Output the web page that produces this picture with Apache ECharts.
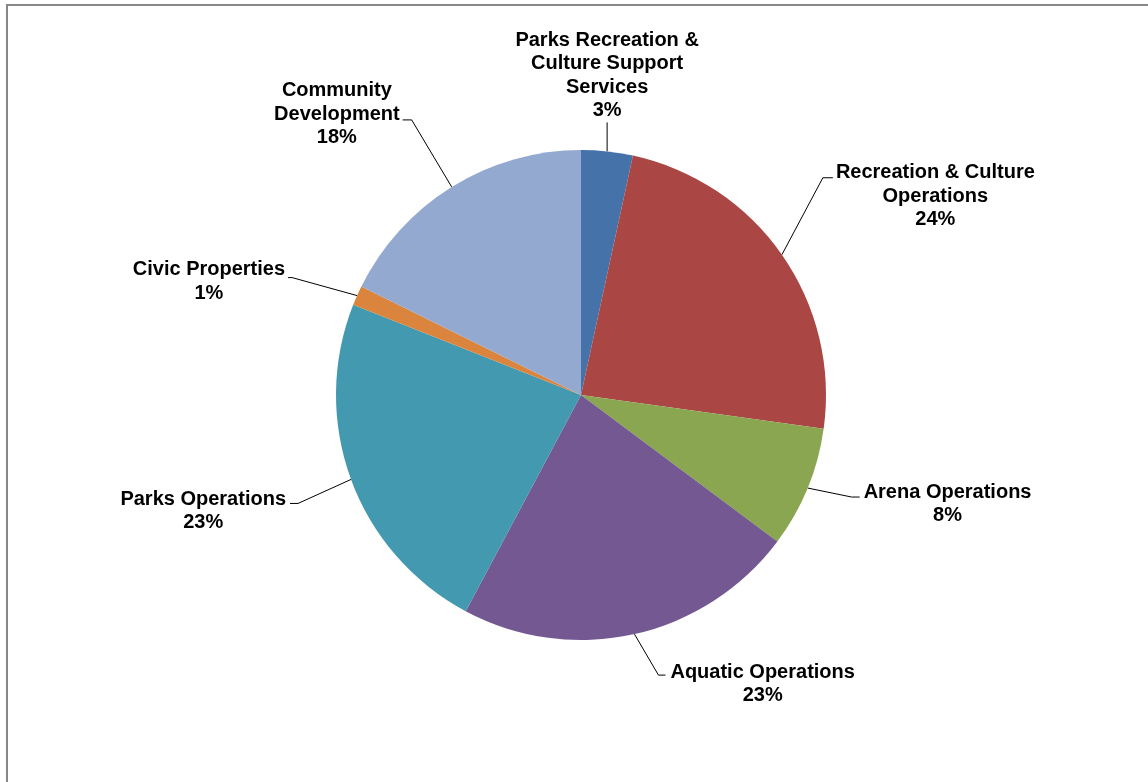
<!DOCTYPE html>
<html>
<head>
<meta charset="utf-8">
<script src="https://cdn.jsdelivr.net/npm/echarts@6/dist/echarts.min.js"></script>
<style>
  html, body { margin: 0; padding: 0; background: #ffffff; }
  #chart { width: 1148px; height: 782px; }
</style>
</head>
<body>
<div id="chart"></div>
<script>
// Department budget shares (percent of total)
const categories = [
  'Parks Recreation &\nCulture Support\nServices',
  'Recreation & Culture\nOperations',
  'Arena Operations',
  'Aquatic Operations',
  'Parks Operations',
  'Civic Properties',
  'Community\nDevelopment'
];
const shares = [3.4, 23.8, 8.0, 22.6, 23.2, 1.3, 17.7];
const sliceColors = ['#4572A8', '#AA4644', '#8AA650', '#735892', '#4399B0', '#DB843D', '#94A9D0'];

// Leader-line routing for each label: bend offset from the slice edge,
// horizontal tail, which side the text sits on, and first-line offset.
const LINE_H = 23.5;
const leaders = [
  { bend: [0, -29],   tail: 0,  side: 'top',   gap: 0, first: 0 },
  { bend: [41, -77],  tail: 10, side: 'right', gap: 3, first: -5 },
  { bend: [44, 9],    tail: 8,  side: 'right', gap: 4, first: -5 },
  { bend: [24, 41],   tail: 7,  side: 'right', gap: 5, first: -3 },
  { bend: [-53, 24],  tail: -8, side: 'left',  gap: 4, first: -4 },
  { bend: [-65, -18], tail: -4, side: 'left',  gap: 3, first: -8 },
  { bend: [-40, -67], tail: -9, side: 'left',  gap: 3, first: -29 }
];

const chart = echarts.init(document.getElementById('chart'), null, { renderer: 'canvas' });

chart.setOption({
  animation: false,
  backgroundColor: '#ffffff',
  graphic: [{
    type: 'rect',
    shape: { x: 7, y: 5, width: 1200, height: 900 },
    style: { fill: 'none', stroke: '#878787', lineWidth: 2 },
    silent: true
  }],
  series: [{
    type: 'pie',
    center: [581, 395],
    radius: 245,
    startAngle: 90,
    clockwise: true,
    avoidLabelOverlap: false,
    percentPrecision: 0,
    itemStyle: { borderWidth: 0 },
    label: {
      show: true,
      position: 'outside',
      formatter: '{b}\n{d}%',
      color: '#000000',
      fontFamily: "'Liberation Sans', Arial, sans-serif",
      fontWeight: 'bold',
      fontSize: 20,
      lineHeight: LINE_H,
      align: 'center'
    },
    labelLine: {
      show: true,
      length: 20,
      length2: 10,
      lineStyle: { color: '#000000', width: 1 }
    },
    labelLayout: function (params) {
      const spec = leaders[params.dataIndex];
      const pts = params.labelLinePoints;
      if (!spec || !pts) return {};
      const p = pts[0];
      const b = [p[0] + spec.bend[0], p[1] + spec.bend[1]];
      const t = [b[0] + spec.tail, b[1]];
      const w = params.labelRect.width;
      const linePts = spec.tail ? [p, b, t] : [p, b];
      if (spec.side === 'top') {
        return {
          x: b[0], y: b[1],
          align: 'center', verticalAlign: 'bottom',
          labelLinePoints: linePts
        };
      }
      const top = t[1] + spec.first - LINE_H / 2;
      const cx = spec.side === 'right' ? t[0] + spec.gap + w / 2 : t[0] - spec.gap - w / 2;
      return {
        x: cx, y: top,
        align: 'center', verticalAlign: 'top',
        labelLinePoints: linePts
      };
    },
    data: categories.map((name, i) => ({
      name: name,
      value: shares[i],
      itemStyle: { color: sliceColors[i] }
    }))
  }]
});
</script>
</body>
</html>
